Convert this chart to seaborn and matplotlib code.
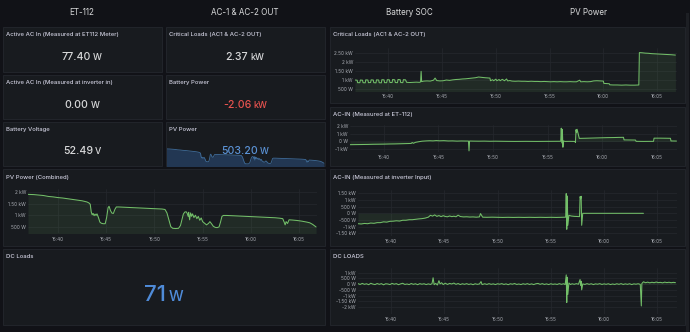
import numpy as np
import pandas as pd
import matplotlib
matplotlib.use("Agg")
import matplotlib.pyplot as plt
import seaborn as sns
from matplotlib.patches import Rectangle

# ---------------- DATA ----------------
header_labels = ["ET-112", "AC-1 & AC-2 OUT", "Battery SOC", "PV Power"]

stat_titles = ["Active AC In (Measured at ET112 Meter)", "Critical Loads (AC1 & AC-2 OUT)",
               "Active AC In (Measured at inverter in)", "Battery Power",
               "Battery Voltage", "PV Power"]
stat_values = ["77.40", "2.37", "0.00", "-2.06", "52.49", "503.20"]
stat_units = ["W", "kW", "W", "kW", "V", "W"]
dc_title = "DC Loads"
dc_value = "71"
dc_unit = "W"

chart_titles = ["PV Power (Combined)", "Critical Loads (AC1 & AC-2 OUT)", "AC-IN (Measured at ET-112)",
                "AC-IN (Measured at inverter Input)", "DC LOADS"]

# time in minutes after 15:00
time_ticks = [40, 45, 50, 55, 60, 65]
time_labels = ["15:40", "15:45", "15:50", "15:55", "16:00", "16:05"]

pv_points = [(36.9, 1910), (37.5, 1900), (38.0, 1880), (38.5, 1860), (39.0, 1820), (39.5, 1800),
             (40.0, 1770), (40.5, 1750), (41.0, 1720), (41.5, 1690), (42.0, 1660), (42.5, 1630),
             (43.0, 1580), (43.2, 1540), (43.35, 1480), (43.45, 1150), (43.55, 1020), (43.65, 1080),
             (43.75, 980), (43.85, 1050), (43.95, 990), (44.05, 1060), (44.2, 900), (44.35, 700),
             (44.5, 650), (44.7, 630), (44.9, 630), (45.05, 900), (45.2, 1330), (45.3, 1390),
             (45.45, 1200), (45.6, 1090), (45.75, 1080), (45.9, 1250), (46.05, 1360), (46.3, 1360),
             (46.8, 1350), (47.3, 1340), (47.8, 1330), (48.3, 1320), (48.8, 1310), (49.3, 1300),
             (49.8, 1290), (50.3, 1280), (50.8, 1270), (51.1, 1250), (51.3, 1100), (51.5, 800),
             (51.7, 500), (51.9, 430), (52.2, 420), (52.5, 430), (52.7, 550), (52.85, 800),
             (53.0, 1050), (53.15, 1140), (53.3, 1150), (53.4, 1080), (53.5, 950), (53.55, 1130),
             (53.65, 800), (53.75, 1100), (53.85, 950), (53.95, 1060), (54.1, 900), (54.25, 1000),
             (54.4, 850), (54.55, 950), (54.7, 780), (54.85, 880), (55.0, 720), (55.2, 650),
             (55.4, 580), (55.6, 640), (55.75, 720), (55.9, 640), (56.1, 520), (56.3, 470),
             (56.5, 460), (56.7, 490), (56.85, 700), (57.0, 950), (57.15, 990), (57.5, 990),
             (58.0, 980), (58.5, 970), (59.0, 960), (59.5, 950), (60.0, 940), (60.5, 930),
             (61.0, 920), (61.5, 910), (62.0, 900), (62.5, 890), (63.0, 870), (63.3, 850),
             (63.45, 700), (63.55, 580), (63.65, 720), (63.8, 640), (63.95, 800), (64.3, 790),
             (64.8, 770), (65.3, 740), (65.8, 700), (66.1, 670), (66.4, 600), (66.75, 490)]

crit_points = [(36.9, 990), (37.1, 980), (37.15, 840), (37.35, 840), (37.4, 990), (37.6, 980),
               (37.65, 840), (37.85, 830), (37.9, 1000), (38.1, 990), (38.15, 840), (38.35, 850),
               (38.4, 1000), (38.6, 990), (38.65, 840), (38.85, 830), (38.9, 1000), (39.1, 990),
               (39.15, 840), (39.35, 830), (39.4, 1010), (39.6, 1000), (39.65, 840), (39.85, 840),
               (39.9, 1010), (40.1, 1000), (40.15, 850), (40.35, 850), (40.4, 1020), (40.6, 1000),
               (40.65, 850), (40.85, 840), (40.9, 1020), (41.1, 1010), (41.15, 850), (41.35, 840),
               (41.4, 1010), (41.6, 1000), (41.7, 860), (42.0, 850), (42.3, 860), (42.6, 870),
               (42.9, 860), (43.0, 880), (43.05, 1480), (43.1, 900), (43.3, 930), (43.6, 940),
               (43.9, 930), (44.2, 980), (44.35, 1100), (44.5, 960), (44.8, 940), (45.1, 950),
               (45.4, 990), (45.7, 970), (46.0, 1000), (46.3, 1020), (46.6, 1030), (46.9, 1050),
               (47.2, 1060), (47.5, 1080), (47.8, 1100), (48.1, 1120), (48.4, 1160), (48.7, 1140),
               (49.0, 1120), (49.3, 1110), (49.45, 1100), (49.5, 950), (49.7, 1010), (49.8, 950),
               (50.0, 1040), (50.1, 950), (50.3, 1020), (50.4, 950), (50.6, 1030), (50.8, 950),
               (51.0, 1050), (51.1, 940), (51.3, 960), (51.5, 930), (51.8, 920), (52.1, 930),
               (52.4, 920), (52.7, 920), (53.0, 910), (53.3, 920), (53.6, 910), (53.9, 910),
               (54.2, 900), (54.5, 910), (54.8, 900), (55.1, 890), (55.4, 900), (55.7, 890),
               (56.0, 900), (56.3, 890), (56.6, 890), (56.9, 900), (57.2, 890), (57.5, 890),
               (57.8, 980), (57.9, 890), (58.2, 900), (58.5, 890), (58.8, 900), (59.1, 940),
               (59.4, 950), (59.7, 940), (60.0, 930), (60.05, 800), (60.3, 790), (60.55, 780),
               (60.6, 720), (60.9, 710), (61.3, 710), (61.7, 700), (62.1, 710), (62.5, 700),
               (62.9, 700), (63.3, 710), (63.35, 2540), (63.6, 2530), (63.9, 2510), (64.2, 2500),
               (64.5, 2480), (64.8, 2470), (65.1, 2460), (65.4, 2450), (65.7, 2440), (66.0, 2430),
               (66.3, 2420), (66.7, 2400)]

acet_points = [(36.9, -430), (37.5, -420), (38.0, -410), (38.5, -400), (39.0, -380), (39.5, -370),
               (40.0, -360), (40.5, -340), (41.0, -330), (41.5, -310), (42.0, -290), (42.5, -270),
               (42.6, -150), (42.7, -250), (42.9, -120), (43.2, -40), (43.5, 30), (43.9, 70),
               (44.2, 90), (44.5, 70), (44.8, 110), (45.1, 80), (45.5, 100), (45.9, 60), (46.3, 70),
               (46.7, 40), (47.1, 60), (47.5, 50), (47.75, 50), (47.8, -1250), (47.85, 50),
               (48.2, 40), (48.7, 30), (49.2, 40), (49.7, 20), (50.2, 30), (50.7, 20), (51.2, 10),
               (52.0, 0), (53.0, 10), (54.0, 0), (55.0, 10), (56.2, 20), (56.25, 1750),
               (56.3, -200), (56.35, 1600), (56.4, -770), (56.45, 60), (56.6, 0), (57.0, 10),
               (57.5, 0), (57.55, -150), (57.6, 1550), (57.65, 1150), (57.7, 1600), (57.8, 1000),
               (57.9, 400), (58.5, 420), (59.0, 440), (59.5, 460), (60.0, 480), (60.5, 500),
               (61.0, 510), (61.5, 530), (61.95, 540), (62.0, 200), (62.5, 190), (63.05, 180),
               (63.1, 10), (63.8, 0), (64.7, 10), (64.75, 430), (65.3, 430), (65.8, 420),
               (66.25, 410), (66.3, 60), (66.8, 50)]

acinv_points = [(36.9, -780), (37.2, -800), (37.5, -760), (37.8, -780), (38.1, -730), (38.4, -750),
                (38.7, -700), (39.0, -700), (39.3, -640), (39.6, -660), (39.9, -600), (40.2, -590),
                (40.5, -560), (40.8, -580), (41.1, -520), (41.4, -520), (41.7, -480), (42.0, -480),
                (42.3, -450), (42.6, -420), (42.9, -400), (43.2, -360), (43.5, -290), (43.7, -150),
                (43.9, -210), (44.1, -120), (44.3, -230), (44.5, -170), (44.7, -250), (44.9, -180),
                (45.1, -240), (45.3, -260), (45.5, -200), (45.7, -250), (45.9, -220), (46.1, -260),
                (46.3, -140), (46.5, -240), (46.8, -270), (47.1, -260), (47.4, -280), (47.7, -270),
                (48.0, -290), (48.3, -270), (48.4, -20), (48.5, -150), (48.6, -290), (49.0, -300),
                (49.5, -290), (50.0, -300), (50.5, -310), (51.0, -300), (51.5, -310), (52.0, -300),
                (52.5, -310), (53.0, -300), (53.5, -310), (54.0, -300), (54.5, -310), (55.0, -300),
                (55.5, -310), (56.0, -300), (56.4, -290), (56.45, 1480), (56.5, -1200), (56.55, 1300),
                (56.6, -900), (56.7, -150), (56.9, -200), (57.2, -230), (57.5, -240), (57.7, -250),
                (57.75, 1250), (57.8, 1100), (57.85, 1280), (57.9, -900), (58.0, 0), (59.0, 0),
                (60.0, 0), (61.0, 0), (62.0, 0), (63.0, 0), (63.7, 0)]

dc_points = [(36.9, 40), (37.1, -30), (37.3, 60), (37.5, -20), (37.7, 30), (37.9, -50), (38.1, 70),
             (38.3, 0), (38.5, -40), (38.7, 50), (38.9, -20), (39.1, 40), (39.3, -60), (39.5, 30),
             (39.7, 10), (39.9, -40), (40.1, 60), (40.3, -10), (40.5, 40), (40.7, -50), (40.9, 20),
             (41.1, 70), (41.3, -30), (41.5, 10), (41.7, -40), (41.9, 50), (42.1, -20), (42.3, 30),
             (42.5, -50), (42.7, 40), (42.9, -10), (43.1, 30), (43.3, -40), (43.5, 20), (43.7, -30),
             (43.85, 40), (43.95, 550), (44.05, -50), (44.2, 60), (44.35, -80), (44.5, 300),
             (44.6, 20), (44.75, 120), (44.9, -40), (45.1, 80), (45.3, -30), (45.5, 60), (45.7, 10),
             (45.9, 90), (46.1, -20), (46.3, 50), (46.5, -40), (46.7, 30), (46.9, -20), (47.1, 40),
             (47.3, -30), (47.5, 20), (47.7, -50), (47.9, 30), (48.1, -20), (48.3, 10), (48.45, 220),
             (48.55, -40), (48.8, 30), (49.0, -30), (49.2, 40), (49.4, -20), (49.6, 20), (49.8, -40),
             (50.0, 30), (50.2, -10), (50.4, 40), (50.6, -30), (50.8, 20), (51.0, -50), (51.2, 30),
             (51.4, -10), (51.6, 50), (51.8, -30), (52.0, 10), (52.2, -40), (52.4, 30), (52.6, -20),
             (52.8, 40), (53.0, -30), (53.2, 20), (53.4, -40), (53.6, 30), (53.8, 60), (54.0, -20),
             (54.2, 40), (54.4, -30), (54.6, 20), (54.8, -40), (55.0, 30), (55.2, -20), (55.4, 10),
             (55.6, -30), (55.8, 40), (56.0, -20), (56.2, 30), (56.35, -40), (56.45, 800),
             (56.5, -1600), (56.55, 600), (56.6, -900), (56.7, 100), (56.85, -40), (57.0, 30),
             (57.2, -20), (57.4, 40), (57.6, -10), (57.75, 400), (57.8, -100), (57.85, 250),
             (57.9, -500), (58.0, 20), (58.2, -30), (58.4, 40), (58.6, -20), (58.8, 30), (59.0, -40),
             (59.2, 20), (59.4, -10), (59.6, 40), (59.8, -30), (60.0, 20), (60.2, -20), (60.4, 30),
             (60.6, -40), (60.8, 10), (61.0, -30), (61.2, 30), (61.4, -20), (61.6, 40), (61.8, -30),
             (62.0, 20), (62.2, -20), (62.4, 30), (62.6, -40), (62.8, 20), (63.0, -10), (63.2, 30),
             (63.4, -20), (63.5, -1900), (63.55, 50), (63.7, 200), (63.9, 120), (64.1, 170),
             (64.3, 110), (64.5, 160), (64.7, 120), (64.9, 180), (65.1, 130), (65.3, 150),
             (65.5, 110), (65.7, 170), (65.9, 130), (66.1, 160), (66.3, 120), (66.5, 150), (66.7, 130)]

pv_yticks = [500, 1000, 1500, 2000]
crit_yticks = [500, 1000, 1500, 2000, 2500]
acet_yticks = [-1000, 0, 1000, 2000]
acinv_yticks = [-1500, -1000, -500, 0, 500, 1000, 1500]
dc_yticks = [-2000, -1500, -1000, -500, 0, 500, 1000]

# ---------------- STYLE ----------------
sns.set_theme(style="dark")
plt.rcParams['font.family'] = ['Inter', 'DejaVu Sans']

W, H = 690, 332
BG = "#111217"
PANEL = "#181b1f"
BORDER = "#24272d"
TITLE = "#ccccdc"
VALUE = "#d8d9da"
RED = "#e8534f"
BLUE = "#5b93d6"
BIGBLUE = "#4f8bd8"
GREEN = "#73bf69"
GRID = "#25282e"
TICK = "#a8abb2"
XMIN, XMAX = 36.9, 66.85
TFS = 4.3

fig = plt.figure(figsize=(W / 100, H / 100), dpi=100)
fig.patch.set_facecolor(BG)


def fbox(x0, y0, x1, y1):
    return [x0 / W, 1 - y1 / H, (x1 - x0) / W, (y1 - y0) / H]


def panel(x0, y0, x1, y1):
    fig.patches.append(Rectangle((x0 / W, 1 - y1 / H), (x1 - x0) / W, (y1 - y0) / H,
                                 transform=fig.transFigure, facecolor=PANEL,
                                 edgecolor=BORDER, lw=0.6, zorder=-5))


def ftext(x, y, s, **kw):
    return fig.text(x / W, 1 - y / H, s, **kw)


def ptitle(x, y, s):
    ftext(x, y, s, fontsize=TFS, color=TITLE, ha='left', va='center', fontweight='medium')


def fmt(v):
    if v == 0:
        return "0 W"
    if abs(v) >= 1000:
        k = v / 1000
        return f"{k:.0f} kW" if k == int(k) else f"{k:.2f} kW"
    return f"{v:.0f} W"


renderer = fig.canvas.get_renderer()


def stat_text(cx, base_y, num, unit, color, fs, ufs, gap=2.0):
    t1 = ftext(0, base_y, num, fontsize=fs, color=color, ha='left', va='baseline', fontweight='medium')
    t2 = ftext(0, base_y, unit, fontsize=ufs, color=color, ha='left', va='baseline', fontweight='medium')
    w1 = t1.get_window_extent(renderer).width
    w2 = t2.get_window_extent(renderer).width
    x0 = cx - (w1 + gap + w2) / 2
    t1.set_x(x0 / W)
    t2.set_x((x0 + w1 + gap) / W)


def chart(box_px, points, ylim, yticks):
    t = [p[0] for p in points]
    v = [p[1] for p in points]
    ax = fig.add_axes(fbox(*box_px))
    ax.set_facecolor('none')
    df = pd.DataFrame({'t': t, 'v': v})
    ax.fill_between(df['t'], df['v'], 0, color=GREEN, alpha=0.10, lw=0)
    sns.lineplot(data=df, x='t', y='v', ax=ax, color=GREEN, lw=0.75, estimator=None, sort=False)
    ax.set_xlim(XMIN, XMAX)
    ax.set_ylim(*ylim)
    ax.set_xticks(time_ticks)
    ax.set_xticklabels(time_labels)
    ax.set_yticks(yticks)
    ax.set_yticklabels([fmt(y) for y in yticks])
    ax.grid(True, color=GRID, lw=0.5)
    for s in ax.spines.values():
        s.set_visible(False)
    ax.tick_params(axis='both', length=0, labelsize=3.4, colors=TICK)
    ax.tick_params(axis='x', pad=2.5)
    ax.tick_params(axis='y', pad=1.5)
    ax.set_xlabel('')
    ax.set_ylabel('')
    return ax


# ---------------- HEADER ----------------
for cx, lab in zip([82, 245, 409, 588], header_labels):
    ftext(cx, 12.5, lab, fontsize=5.8, color=VALUE, ha='center', va='center')

# ---------------- STAT PANELS ----------------
stat_boxes = [(3, 27, 162, 72), (166, 27, 325, 72), (3, 75, 162, 119),
              (166, 75, 325, 119), (3, 122, 162, 166), (166, 122, 325, 166)]
stat_colors = [VALUE, VALUE, VALUE, RED, VALUE, BLUE]
stat_centers = [82, 245, 82, 245, 82, 245]
for (x0, y0, x1, y1), title in zip(stat_boxes, stat_titles):
    panel(x0, y0, x1, y1)
    ptitle(x0 + 3, y0 + 7.3, title)

# sparkline in PV Power stat
pv_t = [p[0] for p in pv_points]
pv_v = [p[1] for p in pv_points]
sax = fig.add_axes(fbox(166.5, 146, 324.5, 165.6))
sax.set_facecolor('none')
sax.fill_between(pv_t, pv_v, 0, color="#223753", lw=0)
sns.lineplot(x=pv_t, y=pv_v, ax=sax, color="#3f6c9a", lw=0.6, estimator=None, sort=False)
sax.set_xlim(XMIN, XMAX)
sax.set_ylim(250, 2200)
sax.axis('off')

for (x0, y0, x1, y1), cx, val, unit, col in zip(stat_boxes, stat_centers, stat_values, stat_units, stat_colors):
    stat_text(cx, (y0 + y1) / 2 + 10.5, val, unit, col, 7.6, 6.4)

# ---------------- PV COMBINED + DC LOADS (left) ----------------
panel(3, 169, 325, 246)
ptitle(6, 177.5, chart_titles[0])
chart((28, 189, 317, 233.3), pv_points, (212, 2144), pv_yticks)

panel(3, 249, 325, 325)
ptitle(6, 256.7, dc_title)
stat_text(164, 301, dc_value, dc_unit, BIGBLUE, 16, 10.5, gap=3)

# ---------------- RIGHT COLUMN ----------------
panel(330, 27, 685, 103)
ptitle(333, 34.3, chart_titles[1])
chart((355, 48, 677, 91), crit_points, (370, 2800), crit_yticks)

panel(330, 107, 685, 166)
ptitle(333, 114, chart_titles[2])
chart((350, 125, 677, 152), acet_points, (-1400, 2170), acet_yticks)

panel(330, 169, 685, 246)
ptitle(333, 177.5, chart_titles[3])
chart((358, 190, 677, 235.7), acinv_points, (-1680, 1750), acinv_yticks)

panel(330, 249, 685, 325)
ptitle(333, 256.7, chart_titles[4])
chart((358, 268, 677, 314), dc_points, (-2600, 1400), dc_yticks)

# scrollbar strip on the far right
fig.patches.append(Rectangle((686 / W, 0), 3 / W, 1 - 13 / H, transform=fig.transFigure,
                             facecolor="#1d1f24", edgecolor='none', zorder=-4))

fig.savefig("out.png", dpi=100, facecolor=BG)
